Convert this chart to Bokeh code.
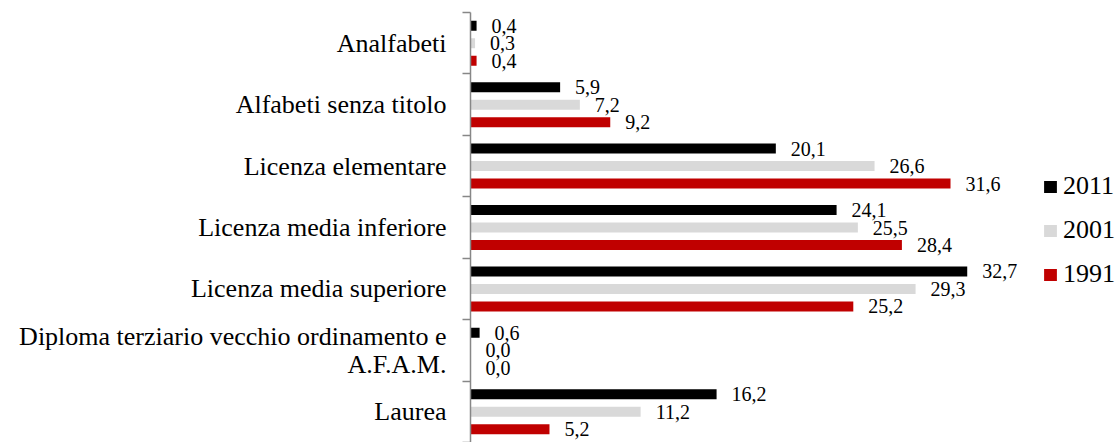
from bokeh.plotting import figure
from bokeh.models import (FactorRange, Range1d, LinearAxis, CategoricalAxis, FixedTicker,
                          ColumnDataSource, LabelSet)
from bokeh.core.properties import value
from bokeh.transform import dodge
from bokeh.embed import file_html
from bokeh.resources import INLINE

# ---- data ----
categories = [
    "Analfabeti",
    "Alfabeti senza titolo",
    "Licenza elementare",
    "Licenza media inferiore",
    "Licenza media superiore",
    "Diploma terziario vecchio ordinamento e\nA.F.A.M.",
    "Laurea",
]
years = ["2011", "2001", "1991"]
v2011 = [0.4, 5.9, 20.1, 24.1, 32.7, 0.6, 16.2]
v2001 = [0.3, 7.2, 26.6, 25.5, 29.3, 0.0, 11.2]
v1991 = [0.4, 9.2, 31.6, 28.4, 25.2, 0.0, 5.2]

# ---- styles ----
colors = ["#000000", "#D9D9D9", "#C00000"]
offsets = [0.285, 0.0, -0.285]
bar_h = 0.163
FONT = "Liberation Serif"
AXIS_GREY = "#878787"


def fmt(v):
    return f"{v:.1f}".replace(".", ",")


series = {"2011": v2011, "2001": v2001, "1991": v1991}
data = {"cat": categories}
for y in years:
    data["v" + y] = series[y]
    data["t" + y] = [fmt(v) for v in series[y]]
source = ColumnDataSource(data)

p = figure(
    width=1120, height=442,
    output_backend="svg", toolbar_location=None,
    y_range=FactorRange(factors=categories[::-1]),
    x_range=Range1d(0, 42.79),
    x_axis_location=None, y_axis_location=None,
    min_border_left=470, min_border_right=0, min_border_top=12, min_border_bottom=0,
)
p.outline_line_color = None
p.grid.visible = False
p.background_fill_color = "white"
p.border_fill_color = "white"

# axis line with ticks at category boundaries (no labels)
bounds = list(range(len(categories) + 1))
tick_axis = LinearAxis(
    ticker=FixedTicker(ticks=bounds, minor_ticks=[]),
    major_label_overrides={b: "" for b in bounds},
    axis_line_color=AXIS_GREY, axis_line_width=1.5,
    major_tick_line_color=AXIS_GREY, major_tick_line_width=1.5,
    major_tick_out=8, major_tick_in=0,
    minor_tick_out=0, minor_tick_in=0,
    major_label_standoff=0,
)
p.add_layout(tick_axis, "left")

cat_axis = CategoricalAxis(
    axis_line_color=None, major_tick_line_color=None,
    major_tick_out=0, major_tick_in=0,
    major_label_standoff=16,
    major_label_text_font=FONT, major_label_text_font_size="26px",
    major_label_text_color="black", major_label_text_line_height=0.95,
)
p.add_layout(cat_axis, "left")

for y, c, off in zip(years, colors, offsets):
    p.hbar(y=dodge("cat", off, range=p.y_range), left=0, right="v" + y, height=bar_h,
           fill_color=c, line_color=None, source=source, legend_label=y)
    p.add_layout(LabelSet(
        x="v" + y, y=dodge("cat", off, range=p.y_range), text="t" + y, source=source,
        x_offset=15, text_baseline="middle", text_align="left",
        text_font=value(FONT), text_font_size=value("20px"), text_color="black",
    ))

leg = p.legend[0]
leg.location = (572, 153)
leg.border_line_color = None
leg.background_fill_alpha = 0
leg.padding = 0
leg.margin = 0
leg.glyph_width = 16
leg.glyph_height = 15
leg.label_standoff = 5
leg.spacing = 14
leg.label_height = 30
leg.label_text_font = FONT
leg.label_text_font_size = "26px"
leg.label_text_color = "black"

open("out.html", "w").write(file_html(p, INLINE))
